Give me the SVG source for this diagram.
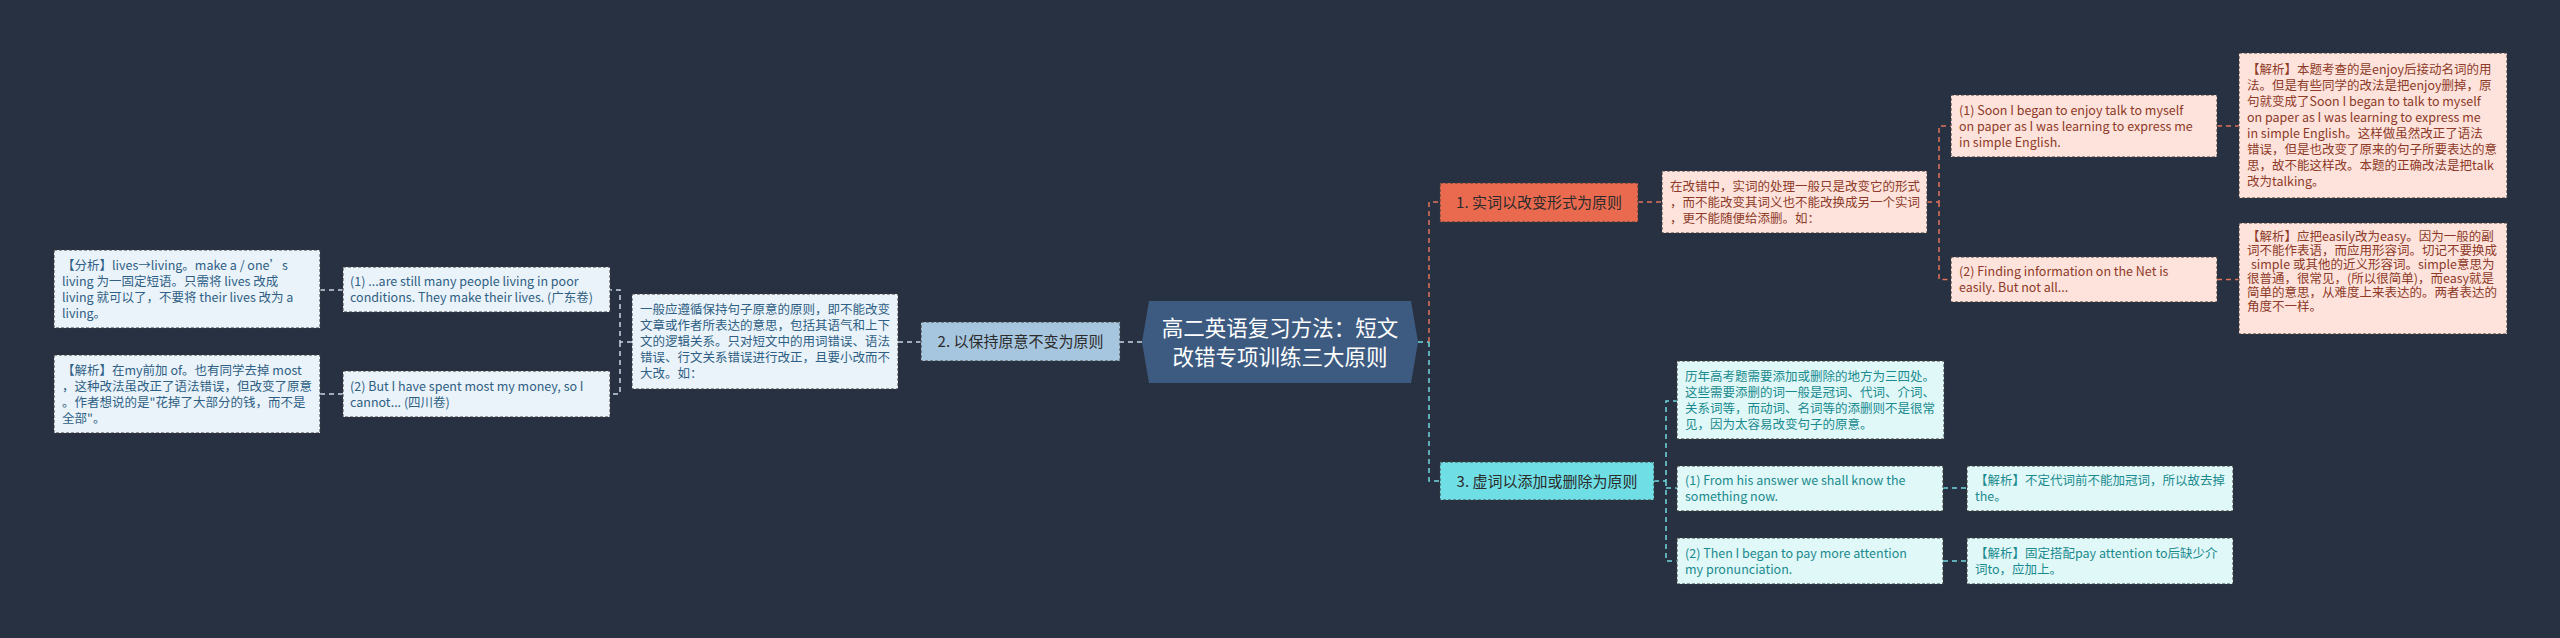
<svg xmlns="http://www.w3.org/2000/svg" width="2560" height="638" viewBox="0 0 2560 638">
<style>
text{font-family:"Noto Sans CJK SC","Microsoft YaHei",sans-serif;}
.bx{stroke:#3a3a3a;stroke-width:1;stroke-dasharray:3 2;}
.t{font-size:12.5px;}
.blue .bx{fill:#eaf3fa;} .blue text{fill:#2f5f84;}
.red .bx{fill:#fde3dc;} .red text{fill:#8e3a28;}
.cyan .bx{fill:#e0f8f8;} .cyan text{fill:#1a8a8e;}
.main text{font-size:15px;fill:#2b2b2b;text-anchor:middle;}
.conn path{fill:none;stroke-width:1.5;stroke-dasharray:5 4;}
.cb{stroke:#c9d6e3;} .cr{stroke:#e0735c;} .cc{stroke:#70d8e0;}
</style>
<rect x="0" y="0" width="2560" height="638" fill="#283141"/>
<g id="connectors" class="conn">
<path class="cb" d="M1142,342 H1120"/>
<path class="cb" d="M921,342 H898"/>
<path class="cb" d="M632,342 H620 V290 H610 M620,342 V394 H610"/>
<path class="cb" d="M343,290 H320 M343,394 H320"/>
<path class="cc" d="M1418,342 H1429"/>
<path class="cr" d="M1429,342 V202 H1440"/>
<path class="cr" d="M1638,202 H1662"/>
<path class="cr" d="M1927,202 H1939 V126 H1951 M1939,202 V279.5 H1951"/>
<path class="cr" d="M2217,126 H2239 M2217,279.5 H2239"/>
<path class="cc" d="M1429,342 V481 H1440"/>
<path class="cc" d="M1654,481 H1666 V401 H1677 M1666,481 V561 H1677 M1666,488 H1677"/>
<path class="cc" d="M1943,488 H1967 M1943,561 H1967"/>
</g>
<g id="center">
<polygon points="1142,342 1149,301 1411,301 1418,342 1411,383 1149,383" fill="#3d5b80"/>
<text x="1280" y="335.5" font-size="21.5" fill="#ffffff" text-anchor="middle">高二英语复习方法：短文</text>
<text x="1280" y="364.5" font-size="21.5" fill="#ffffff" text-anchor="middle">改错专项训练三大原则</text>
</g>
<g id="node2" class="main">
<rect class="bx" x="921" y="322" width="199" height="39" fill="#a6c5de"/>
<text x="1020.5" y="347">2. 以保持原意不变为原则</text>
</g>
<g id="node2-desc" class="blue t">
<rect class="bx" x="632" y="294" width="266" height="95"/>
<text x="640" y="314">一般应遵循保持句子原意的原则，即不能改变</text>
<text x="640" y="330">文章或作者所表达的意思，包括其语气和上下</text>
<text x="640" y="346">文的逻辑关系。只对短文中的用词错误、语法</text>
<text x="640" y="362">错误、行文关系错误进行改正，且要小改而不</text>
<text x="640" y="378">大改。如：</text>
</g>
<g id="b1" class="blue t">
<rect class="bx" x="343" y="267" width="267" height="45"/>
<text x="350" y="286">(1) ...are still many people living in poor</text>
<text x="350" y="302">conditions. They make their lives. (广东卷)</text>
</g>
<g id="b2" class="blue t">
<rect class="bx" x="343" y="371" width="267" height="46"/>
<text x="350" y="390.5">(2) But I have spent most my money, so I</text>
<text x="350" y="406.5">cannot... (四川卷)</text>
</g>
<g id="a1" class="blue t">
<rect class="bx" x="54" y="250" width="266" height="78"/>
<text x="62" y="269.5">【分析】lives→living。make a / one’s</text>
<text x="62" y="285.5">living 为一固定短语。只需将 lives 改成</text>
<text x="62" y="301.5">living 就可以了，不要将 their lives 改为 a</text>
<text x="62" y="317.5">living。</text>
</g>
<g id="a2" class="blue t">
<rect class="bx" x="54" y="355" width="266" height="78"/>
<text x="62" y="374.5">【解析】在my前加 of。也有同学去掉 most</text>
<text x="62" y="390.5">，这种改法虽改正了语法错误，但改变了原意</text>
<text x="62" y="406.5">。作者想说的是"花掉了大部分的钱，而不是</text>
<text x="62" y="422.5">全部"。</text>
</g>
<g id="node1" class="main">
<rect class="bx" x="1440" y="183" width="198" height="39" fill="#ea6a4f"/>
<text x="1539" y="208">1. 实词以改变形式为原则</text>
</g>
<g id="node1-desc" class="red t">
<rect class="bx" x="1662" y="171" width="265" height="62"/>
<text x="1670" y="190.5">在改错中，实词的处理一般只是改变它的形式</text>
<text x="1670" y="206.5">，而不能改变其词义也不能改换成另一个实词</text>
<text x="1670" y="222.5">，更不能随便给添删。如：</text>
</g>
<g id="e1" class="red t">
<rect class="bx" x="1951" y="95" width="266" height="62"/>
<text x="1959" y="114.5">(1) Soon I began to enjoy talk to myself</text>
<text x="1959" y="130.5">on paper as I was learning to express me</text>
<text x="1959" y="146.5">in simple English.</text>
</g>
<g id="f1" class="red t">
<rect class="bx" x="2239" y="53" width="268" height="145"/>
<text x="2247" y="74">【解析】本题考查的是enjoy后接动名词的用</text>
<text x="2247" y="90">法。但是有些同学的改法是把enjoy删掉，原</text>
<text x="2247" y="106">句就变成了Soon I began to talk to myself</text>
<text x="2247" y="122">on paper as I was learning to express me</text>
<text x="2247" y="138">in simple English。这样做虽然改正了语法</text>
<text x="2247" y="154">错误，但是也改变了原来的句子所要表达的意</text>
<text x="2247" y="170">思，故不能这样改。本题的正确改法是把talk</text>
<text x="2247" y="186">改为talking。</text>
</g>
<g id="e2" class="red t">
<rect class="bx" x="1951" y="257" width="266" height="45"/>
<text x="1959" y="276">(2) Finding information on the Net is</text>
<text x="1959" y="292">easily. But not all...</text>
</g>
<g id="f2" class="red t">
<rect class="bx" x="2239" y="223" width="268" height="111"/>
<text x="2247" y="241">【解析】应把easily改为easy。因为一般的副</text>
<text x="2247" y="255">词不能作表语，而应用形容词。切记不要换成</text>
<text x="2251" y="269">simple 或其他的近义形容词。simple意思为</text>
<text x="2247" y="283">很普通，很常见，(所以很简单)，而easy就是</text>
<text x="2247" y="297">简单的意思，从难度上来表达的。两者表达的</text>
<text x="2247" y="311">角度不一样。</text>
</g>
<g id="node3" class="main">
<rect class="bx" x="1440" y="462" width="214" height="38" fill="#6fdfe5"/>
<text x="1547" y="486.5">3. 虚词以添加或删除为原则</text>
</g>
<g id="g1" class="cyan t">
<rect class="bx" x="1677" y="361" width="267" height="78"/>
<text x="1685" y="380.5">历年高考题需要添加或删除的地方为三四处。</text>
<text x="1685" y="396.5">这些需要添删的词一般是冠词、代词、介词、</text>
<text x="1685" y="412.5">关系词等，而动词、名词等的添删则不是很常</text>
<text x="1685" y="428.5">见，因为太容易改变句子的原意。</text>
</g>
<g id="h1" class="cyan t">
<rect class="bx" x="1677" y="466" width="266" height="45"/>
<text x="1685" y="485">(1) From his answer we shall know the</text>
<text x="1685" y="501">something now.</text>
</g>
<g id="h2" class="cyan t">
<rect class="bx" x="1677" y="538" width="266" height="46"/>
<text x="1685" y="557.5">(2) Then I began to pay more attention</text>
<text x="1685" y="573.5">my pronunciation.</text>
</g>
<g id="i1" class="cyan t">
<rect class="bx" x="1967" y="466" width="266" height="45"/>
<text x="1975" y="485">【解析】不定代词前不能加冠词，所以故去掉</text>
<text x="1975" y="501">the。</text>
</g>
<g id="i2" class="cyan t">
<rect class="bx" x="1967" y="538" width="266" height="46"/>
<text x="1975" y="557.5">【解析】固定搭配pay attention to后缺少介</text>
<text x="1975" y="573.5">词to，应加上。</text>
</g>
</svg>
